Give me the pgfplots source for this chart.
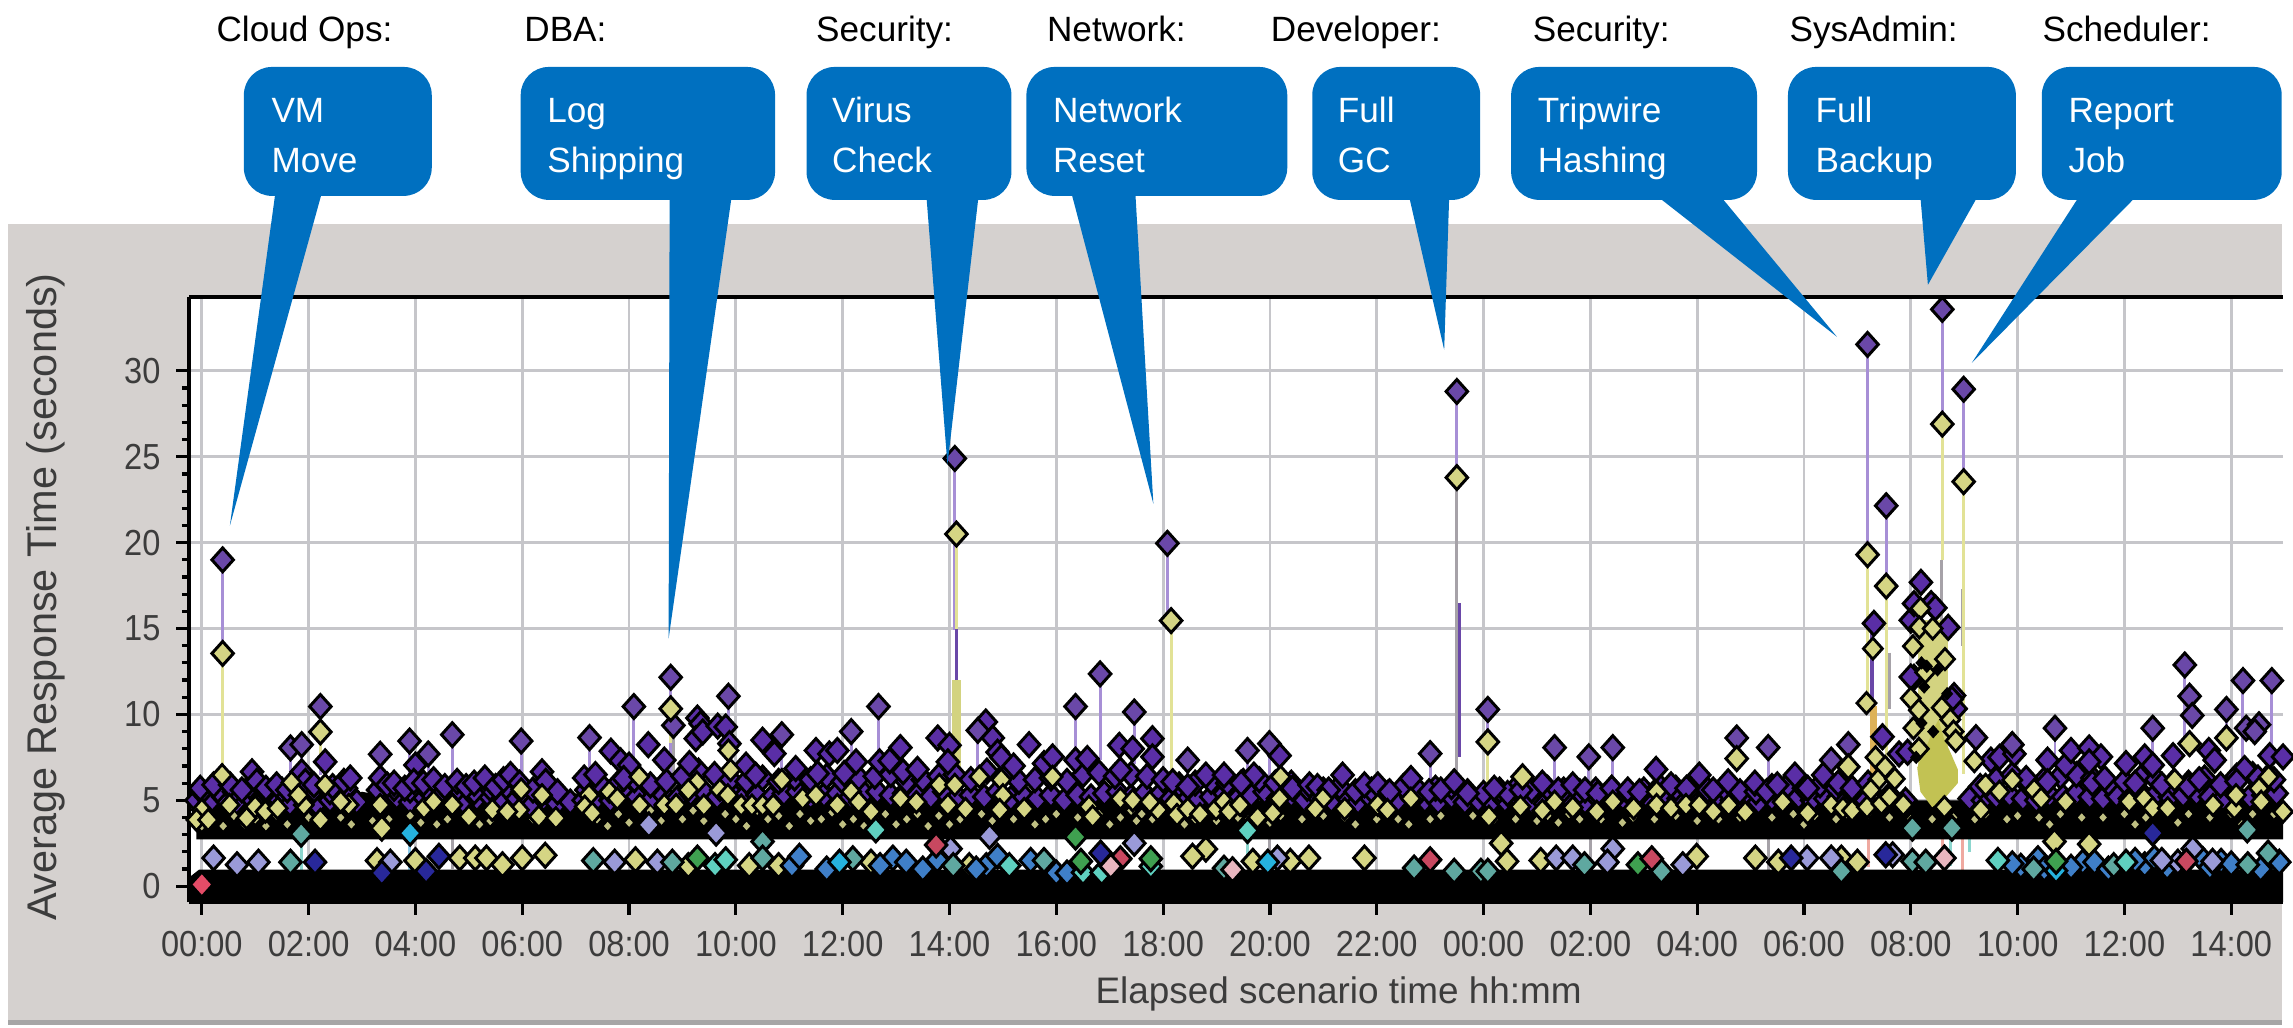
\documentclass[border=0pt]{standalone}
\usepackage{pgfplots}
\usepackage{pgfplotstable}
\usepackage{fontspec}
\pgfplotsset{compat=1.18}
\setmainfont{Liberation Sans}
\newfontfamily\narrowf[FakeStretch=0.9]{Liberation Sans}
\definecolor{panel}{HTML}{D5D1CF}
\definecolor{callout}{HTML}{0070C0}
\definecolor{gridc}{HTML}{C6C6CA}
\definecolor{ticktxt}{HTML}{3C3C3C}
\definecolor{pur}{HTML}{5A2EA6}
\definecolor{purs}{HTML}{6A48A8}
\definecolor{yel}{HTML}{D5D584}
\definecolor{pstem}{HTML}{A78FD6}
\definecolor{ystem}{HTML}{E2E296}
\definecolor{gstem}{HTML}{A6A2A8}
\definecolor{ostem}{HTML}{DDB258}
\definecolor{tstem}{HTML}{8CD6CE}
\definecolor{bstem}{HTML}{8CCBEA}
\definecolor{rstem}{HTML}{EFA9A0}
\definecolor{blu}{HTML}{3F7FC8}
\definecolor{lav}{HTML}{9A9AD8}
\definecolor{tea}{HTML}{5FA8A0}
\definecolor{aqu}{HTML}{5FD0C0}
\definecolor{grn}{HTML}{3FA050}
\definecolor{red1}{HTML}{C84860}
\definecolor{nav}{HTML}{28289A}
\pgfplotsset{
  dia/.style={only marks,mark=diamond*,mark size=3.4pt,forget plot,
    mark options={xscale=1.2,draw=black,fill=#1,line width=.85pt}},
  diy/.style={only marks,mark=diamond*,mark size=3pt,forget plot,
    mark options={xscale=1.2,draw=black,fill=#1,line width=.8pt}},
  dis/.style={only marks,mark=diamond*,mark size=1.6pt,forget plot,
    mark options={xscale=1.2,draw=black,fill=#1,line width=.45pt}}
}
\newcommand\stems[3]{\addplot[draw=none,mark=none,forget plot,
  error bars/.cd,y dir=minus,y explicit,error mark=none,
  error bar style={color=#1,line width=#2}] table[x=x,y=y,y error=e]{#3};}
\pgfplotstableread{
x y e
.39 19 13
1.66 8.05 2
1.87 8.24 2
2.22 10.46 4
3.34 7.68 1.5
3.89 8.45 2.5
4.24 7.7 1.5
4.69 8.82 3
5.98 8.45 3
7.26 8.65 3
8.09 10.46 3
8.78 12.16 7
9.86 11.06 3
10.86 8.82 2
12.16 9 3
12.67 10.46 4
14.53 9.07 3
14.1 24.9 10
16.36 10.46 3
16.82 12.36 5
17.46 10.14 3
18.08 19.96 5
18.46 7.34 1
19.58 7.9 1.5
19.99 8.3 2
23 7.72 1.5
23.5 28.8 5
24.08 10.29 2
25.33 8.07 2
25.97 7.53 1.5
26.42 8.07 2
28.74 8.63 1.2
29.33 8.07 2.5
30.51 7.34 1
30.83 8.24 1
31.19 31.54 12
31.54 22.15 5
32.59 33.58 7
32.99 28.93 5.4
34.7 9.2 2
36.53 9.2 2
37.13 12.88 5
37.91 10.29 2
38.22 11.97 5
38.76 11.97 4
}\purplestems
\pgfplotstableread{
x y e
14.13 15 3
23.55 16.5 9
31.27 15.5 8
}\darkpurplestems
\pgfplotstableread{
x y e
.39 13.55 8
2.22 8.98 2
14.13 20.5 8.5
18.15 15.46 10
24.08 8.4 4
31.19 19.3 9
31.54 17.47 10
32.59 26.9 7.9
32.99 23.55 17
8.78 10.33 2
}\yellowstems
\pgfplotstableread{
x y e
14.13 12 6
32.22 15 8
32.35 15.5 8
32.48 15.5 8
32.62 15 8
}\strongyellowstems
\pgfplotstableread{
x y e
23.5 23.79 20
8.83 9.36 4.5
31.61 13.6 3.3
32.57 19 5
32.97 17.3 3.3
4.69 3 2
26 3 2.2
29.33 3 2.2
20 3 1.5
}\greystems
\pgfplotstableread{
x y e
1.87 3.1 2.2
19.58 3.2 1.5
33.1 3 1
32.75 3.2 2
}\tealstems
\pgfplotstableread{
x y e
3.89 3.2 2.3
}\bluestems
\pgfplotstableread{
x y e
32.6 3.1 2.2
32.97 3 2.1
31.2 3 1.9
}\redstems
\pgfplotstableread{
x y e
31.3 10.5 4.5
}\orangestems
\begin{document}
\begin{tikzpicture}
\path[use as bounding box] (0,0) rectangle (22.93,10.27);
\begin{scope}[shift={(0cm,10.27cm)},x=0.01cm,y=-0.01cm]
\fill[panel] (8,224) rectangle (2283,1021);
\fill[gray!70] (8,1021) rectangle (2283,1026);
\end{scope}
\begin{axis}[
  at={(1.89cm,1.25cm)},anchor=south west,
  scale only axis,width=20.94cm,height=6.05cm,
  xmin=-0.24,xmax=38.97,ymin=-0.92,ymax=34.3,
  axis background/.style={fill=white},
  axis x line=box,axis y line*=left,
  xtick pos=bottom,
  axis line style={black,line width=1.1pt},
  clip=true,
  grid=major,
  grid style={gridc,line width=.8pt},
  xtick={0,2,4,6,8,10,12,14,16,18,20,22,24,26,28,30,32,34,36,38},
  xticklabels={00:00,02:00,04:00,06:00,08:00,10:00,12:00,14:00,16:00,18:00,20:00,22:00,00:00,02:00,04:00,06:00,08:00,10:00,12:00,14:00},
  ytick={0,5,10,15,20,25,30},
  minor y tick num=4,
  tick align=outside,
  major tick length=3.6pt,minor tick length=2pt,
  tick style={black,line width=.9pt},
  /pgf/number format/assume math mode=true,
  tick label style={font=\fontsize{10.3}{12}\narrowf,text=ticktxt},
  xticklabel style={yshift=-1.3pt},
  yticklabel style={xshift=-1pt},
  xlabel={Elapsed scenario time hh:mm},
  ylabel={Average Response Time (seconds)},
  label style={font=\fontsize{10.5}{12}\selectfont,text=ticktxt},
  x label style={at={(axis description cs:0.549,-0.152)},anchor=center},
  y label style={at={(axis description cs:-0.0683,0.504)},anchor=center,font=\fontsize{11.8}{13}\selectfont},
]
% stems
\stems{gstem}{.85pt}{\greystems}
\stems{pstem}{.85pt}{\purplestems}
\stems{ystem}{.85pt}{\yellowstems}
\stems{tstem}{.85pt}{\tealstems}
\stems{bstem}{.85pt}{\bluestems}
\stems{rstem}{.85pt}{\redstems}
\stems{purs}{1.1pt}{\darkpurplestems}
\stems{ostem}{2.2pt}{\orangestems}
\stems{ystem!85!olive}{2.4pt}{\strongyellowstems}
% black bands
\addplot[fill=black,draw=none,forget plot] coordinates {(-.24,-.92)(-.24,.5)(-.05,.97)(39,.97)(39,-.92)(-.24,-.92)};
\addplot[fill=black,draw=none,forget plot] coordinates {(-.1,2.72)(-.1,4.6)(1,4.8)(2.5,4.8)(3,5.5)(4,4.9)(6,4.9)(6.6,5.5)(7,5.4)(8,5)(10,5.2)(12,5.2)(14,5.2)(16,5.2)(18,5)(20,5)(22,5.1)(24,5)(25,5.4)(27,5)(29,5.1)(31,5)(33,5)(35,5.2)(37,5.2)(39,5.2)(39,2.72)(31,2.72)(30,2.72)(15,2.72)(-.1,2.72)};
% purple band, lower layer
\addplot[dia=pur] coordinates {(-.1,5)(.15,4.9)(.4,5.2)(.65,4.9)(.9,5.2)(1.15,5)(1.4,5.2)(1.65,4.8)(1.9,5.1)(2.15,4.8)(2.4,5)(2.65,5.2)(2.9,4.9)(3.4,5)(3.65,5.2)(3.9,4.9)(4.15,5.2)(4.4,5)(4.65,5.1)(4.9,4.9)(5.15,5.1)(5.4,5.2)(5.65,4.9)(5.9,5.1)(6.15,4.7)(6.4,5.1)(6.65,4.8)(6.9,4.9)(7.15,5)(7.4,5.1)(7.65,5)(7.9,5.4)(8.15,5.2)(8.4,5)(8.65,5.3)(8.9,5.1)(9.15,5.4)(9.4,5.5)(9.65,5.2)(9.9,5.5)(10.15,5.2)(10.4,5.3)(10.65,5.1)(10.9,5.4)(11.15,5.5)(11.4,5.2)(11.65,5.3)(11.9,5.4)(12.15,5.2)(12.4,5.4)(12.65,5.5)(12.9,5.3)(13.15,5.4)(13.4,5.3)(13.65,5.2)(13.9,5.5)(14.15,5.2)(14.4,5.3)(14.65,5.2)(14.9,5.5)(15.15,5.1)(15.4,5.2)(15.65,5.1)(15.9,5.3)(16.15,5)(16.4,5.3)(16.65,5.2)(16.9,5.4)(17.15,5.5)(17.4,5.2)(17.65,5.4)(17.9,5.2)(18.15,5.1)(18.4,5.3)(18.65,5)(18.9,5.2)(19.15,5.4)(19.4,5.1)(19.65,5.3)(19.9,5.5)(20.15,5.1)(20.4,5.3)(20.65,5)(20.9,5.2)(21.15,5)(21.4,5.3)(21.65,4.9)(21.9,5.1)(22.15,4.9)(22.4,5)(22.65,5.2)(22.9,5)(23.15,4.9)(23.4,5.2)(23.65,4.9)(23.9,5)(24.15,4.9)(24.4,5)(24.65,5.1)(24.9,4.9)(25.15,4.8)(25.4,5.1)(25.65,5)(25.9,4.9)(26.15,5.1)(26.4,4.9)(26.65,5)(26.9,5.1)(27.15,4.9)(27.4,5)(27.65,5.1)(27.9,5)(28.15,4.9)(28.4,5.1)(28.65,5)(28.9,4.8)(29.15,4.9)(29.4,5.1)(29.65,5)(29.9,5.2)(30.15,5)(30.4,5.1)(30.65,5.2)(30.9,4.9)(31.15,5)(31.6,5.3)(31.9,5)(33.1,5.1)(33.35,5)(33.6,5.2)(33.85,5.3)(34.1,5.1)(34.35,5)(34.6,5.3)(34.85,5.2)(35.1,5.4)(35.35,5.2)(35.6,5.1)(35.85,5.3)(36.1,5.1)(36.35,5.3)(36.6,5.4)(36.85,5.2)(37.1,5.3)(37.35,5.4)(37.6,5.2)(37.85,5.1)(38.1,5.3)(38.35,5.2)(38.6,5.3)(38.85,5.4)};
% purple band, middle layer
\addplot[dia=pur] coordinates {(0,5.5)(.3,5.6)(.6,5.5)(.9,5.8)(1.2,5.5)(1.5,5.6)(1.8,5.5)(2.1,5.6)(2.4,5.5)(2.7,5.7)(3.3,5.6)(3.6,5.7)(3.9,5.6)(4.2,5.7)(4.5,5.6)(4.8,5.7)(5.1,5.5)(5.4,5.7)(5.7,5.8)(6,5.5)(6.3,5.6)(7.2,5.6)(7.5,5.8)(7.8,6)(8.1,6.2)(8.4,5.9)(8.7,6.1)(9,6.4)(9.3,6.7)(9.6,6.5)(9.9,6.2)(10.2,6.1)(10.5,6.3)(10.8,6.1)(11.1,6.3)(11.4,6.2)(11.7,6.4)(12,6.1)(12.3,6.3)(12.6,6.4)(12.9,6.5)(13.2,6.1)(13.5,6.2)(13.8,6.4)(14.1,6.5)(14.4,6.2)(14.7,6.7)(15,6.4)(15.3,6.1)(15.6,6.2)(15.9,6.3)(16.2,6.1)(16.5,6.5)(16.8,6.6)(17.1,6.4)(17.4,6.5)(17.7,6.4)(18,6.2)(18.3,5.9)(18.6,6)(18.9,6.1)(19.2,6)(19.5,6.1)(19.8,6.2)(20.1,6)(20.4,6)(20.7,5.7)(21,5.6)(21.3,5.8)(21.6,5.5)(21.9,5.6)(22.2,5.4)(22.5,5.8)(22.8,5.5)(23.1,5.7)(23.4,5.8)(23.7,5.5)(24,5.4)(24.3,5.6)(24.6,5.7)(24.9,5.6)(25.2,5.7)(25.5,5.6)(25.8,5.5)(26.1,5.6)(26.4,5.7)(26.7,5.5)(27,5.6)(27.3,5.8)(27.6,5.7)(27.9,5.8)(28.2,5.6)(28.5,5.7)(28.8,5.5)(29.1,5.5)(29.4,5.8)(29.7,5.9)(30,5.7)(30.3,5.9)(30.6,5.7)(30.9,5.5)(33.3,5.8)(33.6,6.2)(33.9,6.5)(34.2,5.9)(34.5,6.2)(34.8,6.4)(35.1,6.5)(35.4,6.3)(35.7,6)(36,6.1)(36.3,6.3)(36.6,6.2)(36.9,6)(37.2,6)(37.5,6.3)(37.8,5.9)(38.1,6.4)(38.4,6.5)(38.7,6.4)(39,6.2)};
% purple band, upper layer
\addplot[dia=pur] coordinates {(-.03,5.7)(.22,5.9)(.53,5.9)(.75,5.6)(.94,6.66)(1.03,6.1)(1.2,5.7)(1.4,5.9)(1.6,5.6)(1.87,6.66)(1.94,6.1)(2.1,5.9)(2.31,7.24)(2.45,5.8)(2.66,6.1)(2.78,6.3)(3.34,6.3)(3.47,5.9)(3.6,6)(3.8,5.7)(4,7.05)(3.97,6.1)(4.15,6)(4.34,6.2)(4.55,5.8)(4.78,6.1)(4.95,5.8)(5.1,6)(5.3,6.3)(5.5,5.8)(5.65,6.2)(5.78,6.5)(5.95,6)(6.2,5.6)(6.37,6.66)(6.44,6.1)(6.66,5.5)(7.16,6.3)(7.37,6.5)(7.66,7.86)(7.84,7.3)(8,7.05)(7.9,6.27)(8.36,8.24)(8.66,7.34)(9.28,9.79)(9.34,9.46)(9.25,8.59)(9.38,8.98)(9.66,9.32)(9.81,9.27)(9.13,7.14)(9.88,8.3)(10.19,7.05)(10.37,6.47)(10.5,8.5)(10.72,7.72)(11.12,6.85)(11.5,7.9)(11.75,7.7)(11.9,7.9)(11.53,6.56)(12.25,7.24)(12.03,6.56)(12.69,7.24)(12.88,7.3)(13.08,8.07)(13.13,6.66)(13.4,6.8)(13.78,8.63)(14,8.2)(13.97,7.24)(14.68,9.56)(14.81,8.63)(14.9,7.8)(14.97,7.5)(15.2,7)(15.49,8.24)(15.77,7.14)(15.93,7.53)(16.36,7.34)(16.58,7.43)(17.18,8.2)(17.43,8)(17.2,6.76)(17.8,8.59)(17.8,7.53)(18.18,6.08)(18.46,5.8)(18.8,6.47)(19.14,6.47)(19.7,6.47)(19.46,6)(20.42,5.7)(20.18,7.6)(20.74,5.9)(20.89,5.8)(21.36,6.47)(21.1,5.6)(21.77,5.9)(22.02,5.9)(22.24,5.5)(22.64,6.27)(22.98,5.5)(23.2,5.6)(23.45,6.08)(23.7,5.4)(24.45,5.4)(24.2,5.7)(24.7,5.6)(25.1,6)(25.4,5.6)(25.67,5.9)(25.9,5.6)(26.14,5.4)(26.4,5.7)(26.7,5.6)(26.92,5.5)(27.23,6.8)(27.51,5.9)(27.8,5.7)(28.04,6.47)(28.3,5.6)(28.58,6.08)(29.08,6)(29.3,5.5)(29.5,5.9)(29.83,6.47)(30.07,5.7)(30.36,6.47)(30.64,6)(30.9,5.7)(31.47,8.7)(31.2,6)(31.78,7.7)(31.94,7.8)(32.06,12.16)(32.81,11.1)(32.84,10.33)(33.5,7.34)(33.66,7.5)(33.9,8.24)(33.94,7.7)(34.16,6.27)(34.56,7.34)(34.56,6.08)(34.9,7.05)(35,7.9)(35.34,8.05)(35.56,7.53)(35.34,7.24)(35.4,6)(35.63,6.27)(36.03,7.14)(36.38,7.53)(36.53,7.05)(36.91,7.6)(36.2,6)(36.7,5.9)(37.2,5.8)(37.58,7.9)(37.69,7.34)(37.4,6.2)(38.25,6.85)(38.1,6.1)(38.72,7.6)(38.97,7.53)(38.5,6.3)(38.8,6.2)(31.31,15.3)(32.19,17.69)(32,15.48)(32.06,16.45)(32.38,16.45)(32.46,16.2)(32.7,15.07)(32,12.18)(32.77,10.9)};
% flecks
\addplot[dis=yel!75!gray] coordinates {(0,3.5)(.2,4)(.4,3.5)(.6,4.1)(.8,3.6)(1,3.9)(1.2,3.5)(1.4,4.1)(1.6,3.6)(2,4)(2.2,3.5)(2.6,4)(2.8,3.6)(3.2,3.8)(3.5,3.9)(3.9,4.1)(4.1,3.7)(4.4,3.6)(4.6,3.9)(5.2,3.6)(5.4,3.8)(6.2,3.9)(6.7,3.8)(7.4,3.9)(7.6,3.5)(7.8,4.2)(8,3.7)(8.4,4.4)(8.6,3.8)(9,3.9)(9.2,4.4)(9.4,3.8)(9.8,4.2)(10,3.9)(10.2,3.5)(10.4,4.4)(10.6,3.9)(10.8,4.1)(11,3.5)(11.2,4.2)(11.4,3.8)(11.6,3.9)(11.8,4.3)(12,3.6)(12.2,3.9)(12.4,3.5)(12.6,3.9)(12.8,4.2)(13,3.6)(13.2,3.9)(13.4,4.2)(13.6,3.5)(13.8,4.1)(14,3.6)(14.2,3.9)(14.6,4.2)(14.8,3.8)(15.2,3.9)(15.4,4.2)(15.6,3.6)(15.8,3.9)(16,4.2)(16.4,4)(16.8,4.2)(17,3.6)(17.2,4)(17.4,4.4)(17.5,3.8)(17.6,4.2)(17.8,3.9)(18.2,4.1)(18.4,3.6)(18.6,3.9)(19,3.8)(19.4,4)(19.6,3.9)(20,3.7)(20.2,4.1)(20.6,3.9)(21,4.1)(21.4,4)(21.6,3.6)(22,3.9)(22.4,3.9)(22.6,3.6)(23,3.9)(23.2,4.1)(23.8,4.1)(24.2,3.9)(24.6,3.9)(25,3.8)(25.2,4.1)(25.4,3.7)(25.6,4.2)(25.8,3.9)(26.2,3.9)(26.6,3.7)(26.8,4)(27.2,3.9)(27.6,4.1)(28,3.8)(28.4,3.9)(28.8,4)(29.4,4)(29.8,4.2)(30,3.6)(30.2,4.1)(30.6,3.9)(30.8,4.2)(31.2,4.2)(31.6,4)(32,3.9)(32.4,3.9)(32.8,4)(33.2,3.9)(33.4,4.2)(33.8,3.9)(34,4.1)(34.4,4)(34.6,3.6)(34.8,4.2)(35.2,4)(35.6,4)(36,4.2)(36.2,3.6)(36.4,4)(36.8,4.2)(37,3.7)(37.2,4.2)(37.6,4)(38,4.2)(38.2,3.6)(38.4,4.2)(38.8,4.2)};
% yellow mass at the burst
\addplot[fill=yel!70!olive!90!yellow,draw=none,forget plot] coordinates {(32.12,6.9)(32.3,8.2)(32.45,9.3)(32.52,9.7)(32.62,8.6)(32.74,7.8)(32.88,6.8)(32.88,6)(32.6,5)(32.4,4.6)(32.18,5.5)(32.12,6.9)};
% yellow diamonds
\addplot[diy=yel] coordinates {(.38,6.47)(.52,4.73)(0,4.44)(-.1,3.86)(.12,3.86)(.84,3.96)(1,4.63)(1.19,4.34)(1.42,4.54)(1.68,6.04)(1.91,4.73)(1.81,5.3)(2.31,5.89)(2.22,3.86)(2.75,4.73)(2.6,4.92)(3.34,4.73)(4.16,4.54)(4.34,4.92)(4.69,4.73)(5,4.05)(5.44,4.44)(5.94,4.44)(5.98,5.64)(5.72,4.34)(6.37,5.3)(6.31,4.05)(6.63,3.96)(7.25,5.3)(7.17,4.63)(7.31,4.25)(7.63,5.5)(7.78,5.1)(8.19,6.37)(8.2,4.73)(8.66,4.73)(8.88,4.73)(9.86,7.9)(9.9,6.76)(9.27,6.04)(9.11,5.6)(9.7,5.6)(9.4,4.7)(9.85,5.3)(10.1,4.7)(10.3,4.7)(10.5,4.7)(10.86,6.18)(10.7,4.7)(11.25,5.1)(11.5,5.3)(11.9,4.73)(12.16,5.5)(12.3,4.9)(12.53,4.34)(13.08,5.1)(13.38,4.9)(13.81,5.9)(13.97,4.73)(14.1,5.9)(14.3,4.5)(14.56,6.37)(14.97,6.2)(15,5.3)(14.94,4.44)(15.93,6.37)(15.4,4.5)(16.61,4.63)(16.68,4.05)(17.2,5.1)(17.43,5)(17.9,4.44)(17.75,4.9)(18.2,4.83)(18.26,4.15)(18.46,4.5)(18.69,4.19)(18.99,4.5)(19.14,4.92)(19.24,4.34)(19.44,4.73)(19.77,4)(20.2,6.37)(20.18,5.1)(20.05,4.25)(20.99,5.1)(20.85,4.5)(22.02,4.73)(22.64,5.1)(22.2,4.44)(21.4,4.5)(24.69,4.63)(24.1,4.05)(25.33,4.92)(25.1,4.4)(25.67,4.58)(26.12,4.34)(26.42,4.92)(26.81,4.54)(27.24,5.5)(27.24,4.73)(27.51,4.54)(27.79,4.73)(28.04,4.73)(28.3,4.34)(28.59,4.73)(28.9,4.3)(29.6,4.9)(30.51,4.73)(30.73,4.54)(30.07,4.25)(30.9,4.4)(33.19,7.28)(33.4,5.9)(33.66,5.5)(33.9,6.18)(34.31,5.6)(34.44,5.1)(34.9,4.92)(36.09,4.92)(36.37,5.1)(36.53,4.54)(36.81,4.54)(36.94,6.18)(37.66,4.73)(38.06,4.54)(38.09,5.3)(38.52,5.7)(38.56,4.92)(38.7,6.37)(38.97,4.34)(33.31,4.44)(31.17,10.66)(31.29,13.83)(32.18,16.17)(32.16,15.07)(32.41,15)(32.04,13.97)(32.64,13.22)(32.27,12.45)(32,10.94)(32.15,10.25)(32.58,10.39)(32.74,9.7)(32.8,9)(32.84,8.46)(31.34,7.5)(31.39,6.2)(31.18,4.6)(31.52,6.94)(31.7,6.25)(31.86,4.74)(32.63,4.6)(31.25,5.6)(31.45,4.8)(31.6,5.2)(32.15,8)(32.05,9.2)};
\addplot[dis=black] coordinates {(32.2,13)(32.25,11.6)(32.2,9.5)(32.1,7.5)(32.42,9)(32.3,12.8)(32.5,12.6)(32.68,11.2)};
% spike markers
\addplot[dia=purs] table[x=x,y=y]{\purplestems};
\addplot[dia=purs] coordinates {(8.83,9.36)(37.22,11.06)(37.27,9.94)(38.28,9.2)(38.52,9.4)(38.44,9)(33.22,8.65)(33.9,8.24)};
\addplot[dia=yel] table[x=x,y=y]{\yellowstems};
\addplot[dia=yel] coordinates {(23.5,23.79)(28.74,7.43)(30.83,6.95)(24.73,6.37)(37.22,8.3)(37.91,8.63)};
% colour row
\addplot[dia=yel] coordinates {(3.28,1.49)(4,1.49)(4.83,1.64)(5.12,1.64)(5.33,1.64)(5.63,1.25)(6,1.64)(6.43,1.8)(8.12,1.54)(9.11,1.2)(10.25,1.2)(10.8,1.2)(12.53,1.4)(14.37,1.2)(18.8,2.16)(18.55,1.74)(19.68,1.45)(20.38,1.45)(20.73,1.64)(21.77,1.64)(25.07,1.5)(24.44,1.45)(24.33,2.5)(27.99,1.74)(29.09,1.64)(29.52,1.4)(30.7,1.64)(31,1.4)(34.69,2.6)(35.34,2.45)(3.37,3.38)};
\addplot[dia=blu] coordinates {(11.05,1.2)(11.19,1.74)(12.94,1.64)(13.19,1.4)(13.77,1.54)(14.69,1.2)(14.9,1.74)(15.52,1.5)(16,.77)(16.2,.77)(34.06,1.16)(34.38,1.6)(35.22,1.4)(35.44,1.4)(36.38,1.25)(36.56,1.64)(37.47,1.54)(37.81,1.45)(39,1.16)(33.9,1.3)(34.5,1)(35,1.1)(35.7,1)(36.2,1.5)(36.8,1.1)(37.6,1.1)(38,1.3)(38.55,1)(38.9,1.4)(12.7,1.2)(13.5,1)(11.7,1)(14.5,1)};
\addplot[dia=lav] coordinates {(.22,1.64)(.66,1.25)(1.06,1.4)(3.53,1.4)(7.73,1.4)(8.53,1.4)(8.37,3.57)(9.63,3.09)(14.02,2.18)(14.75,2.9)(17.46,2.5)(20.14,1.64)(25.36,1.64)(25.67,1.64)(26.42,2.18)(26.32,1.4)(27.73,1.25)(30.06,1.64)(30.51,1.64)(31.66,1.83)(37.28,2.18)(37,1.4)(37.65,1.45)(36.7,1.5)};
\addplot[dia=tea] coordinates {(1.66,1.4)(1.86,3.03)(7.33,1.49)(8.81,1.4)(10.5,2.6)(10.5,1.64)(12.19,1.6)(14.07,1.2)(15.77,1.5)(23.45,.87)(23.95,.87)(24.08,.87)(25.89,1.25)(27.33,.87)(30.7,.87)(32.03,1.45)(32.28,1.4)(32.03,3.38)(32.77,3.38)(38.31,1.25)(38.69,1.93)(38.3,3.28)(19.14,1.05)(22.7,1.06)(34.3,1)(35.8,1.2)};
\addplot[dia=aqu] coordinates {(9.61,1.2)(9.81,1.54)(12.62,3.28)(15.12,1.2)(17.77,1.16)(19.58,3.24)(16.5,.8)(16.85,.8)(33.63,1.5)(36.03,1.4)};
\addplot[dia=blu!60!cyan] coordinates {(3.9,3.09)(11.94,1.4)(19.96,1.4)(34.72,.9)};
\addplot[dia=grn] coordinates {(9.28,1.64)(16.36,2.86)(16.46,1.45)(17.77,1.6)(26.89,1.25)(34.72,1.45)};
\addplot[dia=red1] coordinates {(13.75,2.4)(17.2,1.6)(23,1.54)(27.15,1.6)(37.16,1.45)};
\addplot[dia=red1!40!white] coordinates {(17.02,1.16)(19.3,.96)(32.63,1.64)};
\addplot[dia=nav] coordinates {(2.12,1.4)(4.44,1.74)(16.83,1.93)(29.76,1.64)(31.53,1.83)(36.53,3.09)(3.37,.77)(4.2,.87)};
\addplot[only marks,mark=diamond*,mark size=3.4pt,forget plot,mark options={xscale=1.2,draw=black,fill=red!40!purple!70!white,line width=.6pt}] coordinates {(0,.1)};
\end{axis}
\begin{scope}[shift={(0cm,10.27cm)},x=0.01cm,y=-0.01cm]
\foreach \xa/\xb/\yb/\ba/\bb/\tx/\ty in {
 244/432/196/275.5/322/230/526,
 521/775.5/200/670/732/669/639,
 807/1012/200/927/979/948/465,
 1027/1288/196/1072/1136/1154/504,
 1313/1481/200/1410/1450/1445/350,
 1512/1758/200/1659/1722/1838/337,
 1789/2017/200/1921.5/1978.5/1929/285,
 2043/2283/200/2080/2137/1973/363}{
  \fill[callout,rounded corners=0.28cm] (\xa,67) rectangle (\xb,\yb);
  \fill[callout] (\ba,\yb-3) -- (\bb,\yb-3) -- (\tx,\ty) -- cycle;
}
\foreach \x/\t in {216/Cloud Ops:,524/DBA:,816/Security:,1047/Network:,1271/Developer:,1533/Security:,1790/SysAdmin:,2043/Scheduler:}
  \node[anchor=base west,inner sep=0pt,font=\fontsize{10}{12}\selectfont] at (\x,42) {\t};
\foreach \x/\a/\b in {271/VM/Move,547/Log/Shipping,832/Virus/Check,1053/Network/Reset,1338/Full/GC,1538/Tripwire/Hashing,1816/Full/Backup,2069/Report/Job}{
  \node[anchor=base west,inner sep=0pt,text=white,font=\fontsize{10}{12}\selectfont] at (\x,123) {\a};
  \node[anchor=base west,inner sep=0pt,text=white,font=\fontsize{10}{12}\selectfont] at (\x,173) {\b};
}
\end{scope}
\end{tikzpicture}
\end{document}
